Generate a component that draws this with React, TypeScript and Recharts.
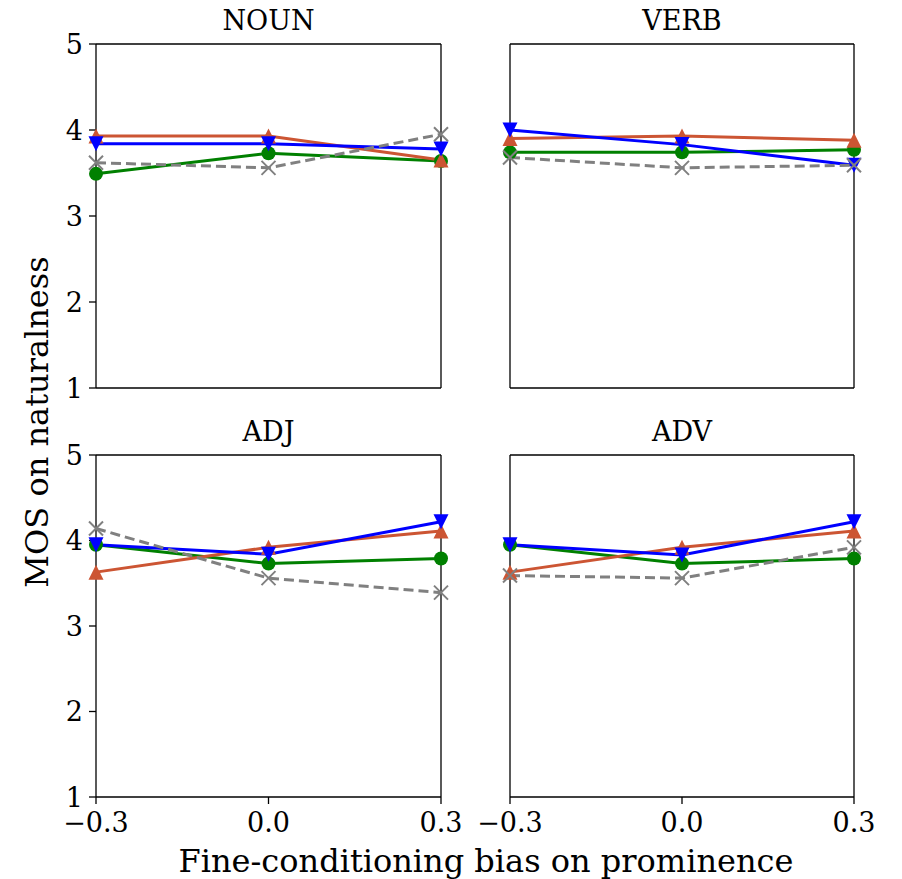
import { LineChart, Line, XAxis, YAxis } from "recharts";

// x positions (fine-conditioning bias) and MOS values
const biases = [-0.3, 0.0, 0.3];
const mosTicks = [1, 2, 3, 4, 5];

const nounOrange = [3.93, 3.93, 3.65];
const nounGreen = [3.49, 3.73, 3.64];
const nounBlue = [3.84, 3.84, 3.78];
const nounGray = [3.62, 3.56, 3.95];

const verbOrange = [3.9, 3.93, 3.88];
const verbGreen = [3.74, 3.74, 3.77];
const verbBlue = [4.0, 3.83, 3.59];
const verbGray = [3.68, 3.56, 3.59];

const adjOrange = [3.63, 3.92, 4.11];
const adjGreen = [3.95, 3.73, 3.79];
const adjBlue = [3.95, 3.84, 4.22];
const adjGray = [4.14, 3.56, 3.39];

const advOrange = [3.63, 3.92, 4.11];
const advGreen = [3.95, 3.73, 3.79];
const advBlue = [3.95, 3.83, 4.22];
const advGray = [3.59, 3.56, 3.92];

const W = 902;
const H = 879;
const FONT = "DejaVu Serif";
const ORANGE = "#cc5533";
const GREEN = "#008000";
const BLUE = "#0000ff";
const GRAY = "#808080";

const fmtBias = (v: number) => {
  if (Math.abs(v) < 1e-9) return "0.0";
  return v < 0 ? "\u2212" + Math.abs(v).toFixed(1) : v.toFixed(1);
};

const R = 7.5;

const Circle = (color: string) => (p: any) => (
  <circle key={p.key} cx={p.cx} cy={p.cy} r={7} fill={color} />
);
const TriUp = (color: string) => (p: any) => (
  <polygon
    key={p.key}
    points={`${p.cx},${p.cy - R} ${p.cx - R},${p.cy + R} ${p.cx + R},${p.cy + R}`}
    fill={color}
  />
);
const TriDown = (color: string) => (p: any) => (
  <polygon
    key={p.key}
    points={`${p.cx},${p.cy + R} ${p.cx - R},${p.cy - R} ${p.cx + R},${p.cy - R}`}
    fill={color}
  />
);
const Cross = (color: string) => (p: any) => (
  <path
    key={p.key}
    d={`M${p.cx - 7},${p.cy - 7}L${p.cx + 7},${p.cy + 7}M${p.cx - 7},${p.cy + 7}L${p.cx + 7},${p.cy - 7}`}
    stroke={color}
    strokeWidth={2}
    fill="none"
  />
);

interface PanelProps {
  orange: number[];
  green: number[];
  blue: number[];
  gray: number[];
  left: number;
  top: number;
  right: number;
  bottom: number;
  xLabels: boolean;
  yLabels: boolean;
}

const axisStroke = { stroke: "#000", strokeWidth: 1.3 };
const tickStyle = { fontSize: 27, fill: "#000", fontFamily: FONT };

function Panel({ orange, green, blue, gray, left, top, right, bottom, xLabels, yLabels }: PanelProps) {
  const data = biases.map((b, i) => ({
    bias: b,
    orange: orange[i],
    green: green[i],
    blue: blue[i],
    gray: gray[i],
  }));
  return (
    <div style={{ position: "absolute", left: 0, top: 0 }}>
      <LineChart
        width={W}
        height={H}
        data={data}
        margin={{ top: top - 1, right: W - right - 1, bottom: H - bottom - 40, left: left - 60 }}
      >
        <XAxis
          xAxisId="b"
          dataKey="bias"
          type="number"
          domain={[-0.3, 0.3]}
          ticks={biases}
          tickFormatter={fmtBias}
          height={40}
          tickSize={7}
          tickMargin={9}
          tick={xLabels ? tickStyle : false}
          axisLine={axisStroke}
          tickLine={axisStroke}
        />
        <XAxis
          xAxisId="t"
          orientation="top"
          dataKey="bias"
          type="number"
          domain={[-0.3, 0.3]}
          ticks={biases}
          height={1}
          tick={false}
          tickLine={false}
          axisLine={axisStroke}
        />
        <YAxis
          yAxisId="l"
          domain={[1, 5]}
          ticks={mosTicks}
          width={60}
          tickSize={7}
          tickMargin={6}
          tick={yLabels ? tickStyle : false}
          axisLine={axisStroke}
          tickLine={axisStroke}
        />
        <YAxis
          yAxisId="r"
          orientation="right"
          domain={[1, 5]}
          ticks={mosTicks}
          width={1}
          tick={false}
          tickLine={false}
          axisLine={axisStroke}
        />
        <Line xAxisId="b" yAxisId="l" dataKey="green" stroke={GREEN} strokeWidth={3}
          dot={Circle(GREEN)} activeDot={false} isAnimationActive={false} />
        <Line xAxisId="b" yAxisId="l" dataKey="orange" stroke={ORANGE} strokeWidth={3}
          dot={TriUp(ORANGE)} activeDot={false} isAnimationActive={false} />
        <Line xAxisId="b" yAxisId="l" dataKey="blue" stroke={BLUE} strokeWidth={3}
          dot={TriDown(BLUE)} activeDot={false} isAnimationActive={false} />
        <Line xAxisId="b" yAxisId="l" dataKey="gray" stroke={GRAY} strokeWidth={3}
          strokeDasharray="10 5" dot={Cross(GRAY)} activeDot={false} isAnimationActive={false} />
      </LineChart>
    </div>
  );
}

export default function App() {
  const L1 = 96, R1 = 441, L2 = 510, R2 = 854;
  const T1 = 44, B1 = 388, T2 = 455, B2 = 797;
  return (
    <div style={{ position: "absolute", left: 0, top: 0, width: W, height: H, background: "#fff" }}>
      <Panel orange={nounOrange} green={nounGreen} blue={nounBlue} gray={nounGray}
        left={L1} right={R1} top={T1} bottom={B1} xLabels={false} yLabels />
      <Panel orange={verbOrange} green={verbGreen} blue={verbBlue} gray={verbGray}
        left={L2} right={R2} top={T1} bottom={B1} xLabels={false} yLabels={false} />
      <Panel orange={adjOrange} green={adjGreen} blue={adjBlue} gray={adjGray}
        left={L1} right={R1} top={T2} bottom={B2} xLabels yLabels />
      <Panel orange={advOrange} green={advGreen} blue={advBlue} gray={advGray}
        left={L2} right={R2} top={T2} bottom={B2} xLabels yLabels={false} />
      <svg width={W} height={H} style={{ position: "absolute", left: 0, top: 0, pointerEvents: "none" }}>
        <g fontFamily={FONT} fill="#000" textAnchor="middle">
          <text x={(L1 + R1) / 2} y={30} fontSize={27}>NOUN</text>
          <text x={(L2 + R2) / 2} y={30} fontSize={27}>VERB</text>
          <text x={(L1 + R1) / 2} y={441} fontSize={27}>ADJ</text>
          <text x={(L2 + R2) / 2} y={441} fontSize={27}>ADV</text>
          <text x={486} y={872} fontSize={32}>Fine-conditioning bias on prominence</text>
          <text x={48} y={422} fontSize={32} transform="rotate(-90 48 422)">MOS on naturalness</text>
        </g>
      </svg>
    </div>
  );
}
